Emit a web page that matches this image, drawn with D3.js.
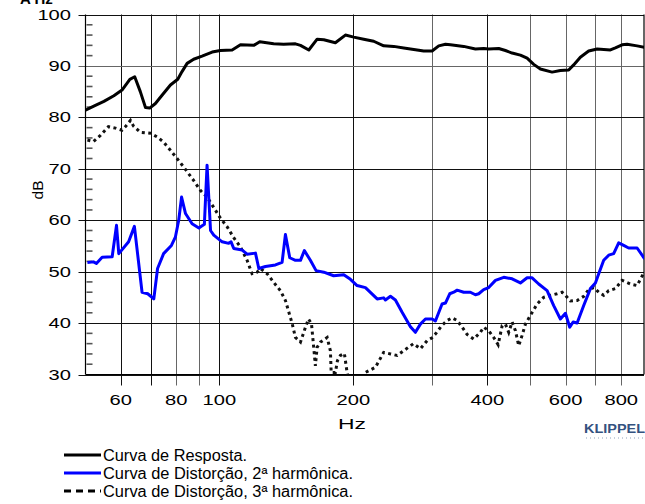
<!DOCTYPE html>
<html>
<head>
<meta charset="utf-8">
<script src="https://cdn.jsdelivr.net/npm/d3@7"></script>
<style>
	body { margin: 0; background: #fff; }
	svg { display: block; font-family: 'Liberation Sans', Arial, sans-serif; }
</style>
</head>
<body>
<div id="chart"></div>
<script>
// response curve [Hz, dB]
const response = [
	[50, 81.4], [52.2, 82.2], [55, 83.1], [57.9, 84.2], [60.4, 85.3], [62.9, 87.4], [64.5, 87.9],
	[66.4, 85.0], [68.2, 81.9], [69.7, 81.8], [71.8, 82.7], [74.3, 84.3], [77.6, 86.3], [80.6, 87.4],
	[82.4, 88.9], [84.6, 90.5], [87.5, 91.3], [91.4, 91.9], [96.3, 92.7], [100.5, 93.0], [106.8, 93.1],
	[111.5, 94.1], [119.4, 94.0], [123.2, 94.7], [132.4, 94.3], [139.4, 94.2], [148.2, 94.3], [152.1, 94.0],
	[158.8, 93.1], [165.8, 95.2], [171.6, 95.1], [182.2, 94.5], [191.9, 96.0], [200.4, 95.6], [211, 95.2],
	[222.2, 94.8], [234, 93.9], [246.5, 93.8], [259.6, 93.5], [278.2, 93.1], [287.8, 92.9], [300.6, 92.9],
	[311.1, 93.9], [322.1, 94.2], [330.5, 94.1], [354, 93.8], [376.1, 93.3], [392.6, 93.4], [402.9, 93.3],
	[424.4, 93.4], [439.3, 93.0], [454.8, 92.5], [474.7, 92.1], [491.5, 91.5], [508.6, 90.3], [526.5, 89.4],
	[559.3, 88.8], [583.9, 89.1], [609.5, 89.2], [625.4, 90.2], [647.4, 91.7], [675.9, 92.9], [706.3, 93.3],
	[756.3, 93.1], [776.1, 93.5], [803.5, 94.1], [824.5, 94.2], [868.5, 93.9], [903, 93.6]
]

// 2nd harmonic distortion [Hz, dB]
const harmonic2 = [
	[50.5, 51.8], [52.1, 51.9], [52.9, 51.6], [54.5, 52.8], [57.4, 52.9], [58.7, 59.0], [59.4, 53.5],
	[62.5, 55.8], [64.4, 58.8], [67.0, 46.0], [69.0, 45.7], [71.2, 44.7], [72.6, 50.6], [74.9, 53.5],
	[78.0, 55.1], [79.6, 56.7], [81.0, 60.0], [82.2, 64.5], [83.9, 61.3], [86.8, 59.3], [89.9, 58.5],
	[92.5, 59.2], [93.8, 70.7], [95.5, 58.0], [97.1, 57.1], [101.4, 55.8], [104.9, 55.5], [106.2, 55.8],
	[107.7, 54.5], [112.5, 54.2], [115.4, 53.4], [120.5, 53.6], [122.6, 50.6], [126.9, 51.0], [133.6, 51.3],
	[138.3, 51.8], [140.7, 57.2], [143.9, 52.7], [148.2, 52.2], [152.1, 52.2], [155.2, 54.1], [160.1, 52.2],
	[164.9, 50.2], [171.6, 49.9], [180.6, 49.2], [190.3, 49.4], [197, 48.5], [203.9, 47.3], [212.9, 46.9],
	[226.2, 44.7], [234, 44.9], [236.1, 44.5], [242.3, 45.2], [248.6, 44.5], [257.4, 42.1], [268.7, 39.3],
	[275.7, 38.2], [282.9, 39.8], [290.4, 40.8], [300.6, 40.8], [305.8, 40.4], [316.5, 43.7], [322.1, 43.9],
	[329.3, 45.7], [336.2, 46.0], [342.2, 46.4], [354, 46.0], [366.4, 46.0], [376.1, 45.5], [382.6, 45.7],
	[392.6, 46.5], [402.9, 46.9], [417.2, 48.3], [435.5, 48.9], [454.8, 48.6], [474.7, 47.8], [491.5, 48.8],
	[504.4, 48.8], [521.9, 47.6], [545.1, 46.3], [564, 43.4], [583.9, 40.8], [599.3, 41.9], [612.8, 39.2],
	[623.6, 40.2], [636.7, 40.0], [658.8, 43.4], [682, 46.7], [699.9, 47.8], [712, 49.6], [730.6, 52.2],
	[749.7, 53.2], [769.3, 53.5], [789.5, 55.6], [810.1, 55.1], [831.4, 54.6], [868.5, 54.6], [903, 52.5]
]

// 3rd harmonic distortion [Hz, dB]
const harmonic3 = [
	[50.5, 75.6], [52.1, 75.3], [54.0, 76.5], [56.3, 78.2], [58.4, 77.9], [60.4, 77.5], [61.5, 78.2],
	[63.1, 79.4], [64.1, 78.3], [66.4, 77.1], [70.0, 76.9], [72.4, 76.2], [74.9, 75.2], [77.6, 73.6],
	[80.3, 72.0], [83.0, 70.4], [87.4, 67.8], [90.6, 65.8], [93.8, 64.5], [96.9, 62.6], [100.5, 60.4],
	[104.1, 58.7], [107.5, 56.7], [111.5, 54.8], [115.4, 52.2], [118.4, 49.6], [121.5, 49.9], [123.6, 50.6],
	[128, 49.6], [132.2, 48.0], [137.1, 46.3], [140.7, 44.4], [142.9, 42.4], [145.7, 39.9], [148.2, 37.2],
	[152.1, 36.3], [156.1, 39.2], [158.5, 40.8], [161, 39.9], [162.6, 36.0], [164.3, 31.7], [165.8, 35.3],
	[168.7, 36.3], [174.6, 37.2], [177.6, 34.6], [178.3, 30.4], [182.2, 30.4], [184.2, 32.7], [187, 33.7],
	[190.9, 34.1], [193.6, 30.4], [197, 27], [208, 27], [212.9, 30.4], [224.2, 31.4], [234, 34.3],
	[242.3, 34.0], [250.8, 33.7], [259.2, 34.6], [272.9, 36.0], [282.9, 35.0], [293, 36.6], [300, 37.1],
	[306, 37.9], [316, 39.5], [324.9, 40.5], [333.4, 41.0], [342.2, 40.5], [351.1, 39.2], [360.3, 37.8],
	[372.8, 36.9], [385.9, 38.2], [392.6, 39.2], [402.9, 38.5], [413.6, 37.2], [423.1, 35.8], [432, 39.5],
	[439.3, 39.8], [446.9, 38.2], [454.8, 40.2], [462.7, 38.5], [470.6, 35.6], [478.9, 37.6], [487.2, 39.8],
	[500, 41.5], [517.6, 43.7], [535.5, 45.0], [554.5, 45.4], [574.1, 45.7], [589.1, 46.0], [599.3, 45.4],
	[615.1, 44.3], [636.7, 44.4], [658.8, 45.2], [675.9, 46.5], [693.7, 46.9], [712, 46.0], [730.6, 45.4],
	[749.7, 46.3], [776.1, 46.7], [803.5, 48.3], [838.8, 47.6], [868.5, 47.3], [898.5, 49.7]
]

const xGrid = [60, 70, 80, 90, 100, 200, 300, 400, 500, 600, 700, 800]
const xLabels = [60, 80, 100, 200, 400, 600, 800]
const yTicks = [30, 40, 50, 60, 70, 80, 90, 100]
const yMinor = d3.range(32, 100, 2).filter(v => v % 10 !== 0)
const legendLabels = ['Curva de Resposta.', 'Curva de Distorção, 2ª harmônica.', 'Curva de Distorção, 3ª harmônica.']

const width = 645
const height = 504
const plotL = 85.5, plotR = 644, plotT = 14.5, plotB = 374.5

const x = d3.scaleLog().domain([50, 900]).range([plotL, plotR])
const y = d3.scaleLinear().domain([30, 100]).range([plotB, plotT])

const svg = d3.select('#chart').append('svg').attr('width', width).attr('height', height)

svg.append('defs').append('clipPath').attr('id', 'plot')
	.append('rect').attr('x', plotL).attr('y', plotT).attr('width', plotR - plotL).attr('height', plotB - plotT)

// title, cut off by the top edge as in the original
svg.append('text').attr('x', 20).attr('y', 4).attr('font-size', '15px').attr('font-weight', 'bold').text('A Hz')

// grid
svg.append('g').selectAll('line').data(xGrid).join('line')
	.attr('x1', d => Math.round(x(d)) + 0.5).attr('x2', d => Math.round(x(d)) + 0.5)
	.attr('y1', plotT).attr('y2', plotB + 11)
	.attr('stroke', d => (d === 100 || d === 200 || d === 400 || d === 60 || d === 70 ? '#111' : '#666'))
	.attr('stroke-width', 1)

svg.append('g').selectAll('line').data(yTicks).join('line')
	.attr('x1', plotL - 7).attr('x2', plotR)
	.attr('y1', d => Math.round(y(d)) + 0.5).attr('y2', d => Math.round(y(d)) + 0.5)
	.attr('stroke', d => (d === 90 ? '#666' : '#111'))
	.attr('stroke-width', 1)

// minor y ticks inside the frame
svg.append('g').selectAll('line').data(yMinor).join('line')
	.attr('x1', plotL + 1).attr('x2', plotL + 7)
	.attr('y1', d => y(d)).attr('y2', d => y(d))
	.attr('stroke', '#555').attr('stroke-width', 1.6)

// frame
svg.append('line').attr('x1', plotL).attr('x2', plotL).attr('y1', plotT).attr('y2', plotB).attr('stroke', '#000').attr('stroke-width', 1.2)
svg.append('line').attr('x1', plotR).attr('x2', plotR).attr('y1', plotT).attr('y2', plotB).attr('stroke', '#000').attr('stroke-width', 1.2)
svg.append('line').attr('x1', plotL).attr('x2', plotR).attr('y1', plotB).attr('y2', plotB).attr('stroke', '#000').attr('stroke-width', 1.2)

// tick labels (wide glyphs as in the original)
svg.append('g').selectAll('text').data(yTicks).join('text')
	.attr('x', 71).attr('y', d => y(d) + 5)
	.attr('text-anchor', 'end')
	.attr('font-size', '14px')
	.attr('textLength', d => String(d).length * 11.2)
	.attr('lengthAdjust', 'spacingAndGlyphs')
	.text(d => d)

svg.append('g').selectAll('text').data(xLabels).join('text')
	.attr('x', d => x(d)).attr('y', 405)
	.attr('text-anchor', 'middle')
	.attr('font-size', '14px')
	.attr('textLength', d => String(d).length * 11.2)
	.attr('lengthAdjust', 'spacingAndGlyphs')
	.text(d => d)

svg.append('text').attr('x', 352).attr('y', 429).attr('text-anchor', 'middle')
	.attr('font-size', '15px').attr('textLength', 28).attr('lengthAdjust', 'spacingAndGlyphs').text('Hz')

svg.append('text').attr('transform', 'translate(43,190) rotate(-90)').attr('text-anchor', 'middle')
	.attr('font-size', '15px').attr('textLength', 19).attr('lengthAdjust', 'spacingAndGlyphs').text('dB')

// curves
const line = d3.line().x(d => x(d[0])).y(d => y(d[1]))
const curves = svg.append('g').attr('clip-path', 'url(#plot)')

curves.append('path').datum(harmonic3).attr('d', line)
	.attr('fill', 'none').attr('stroke', '#111').attr('stroke-width', 3).attr('stroke-dasharray', '3 3.5')
curves.append('path').datum(harmonic2).attr('d', line)
	.attr('fill', 'none').attr('stroke', '#0000ff').attr('stroke-width', 3).attr('stroke-linejoin', 'round')
curves.append('path').datum(response).attr('d', line)
	.attr('fill', 'none').attr('stroke', '#000').attr('stroke-width', 3).attr('stroke-linejoin', 'round')

// KLIPPEL mark
svg.append('text').attr('x', 584).attr('y', 433).attr('font-size', '13px').attr('font-weight', 'bold')
	.attr('fill', '#34527f').attr('textLength', 61).attr('lengthAdjust', 'spacingAndGlyphs').text('KLIPPEL')
svg.append('line').attr('x1', 586).attr('x2', 645).attr('y1', 438).attr('y2', 438)
	.attr('stroke', '#b7c2d2').attr('stroke-width', 1.5).attr('stroke-dasharray', '1 3')

// legend
const legendStyles = [
	{ color: '#000', dash: null },
	{ color: '#0000ff', dash: null },
	{ color: '#000', dash: '7 5' },
]
const legendY = [455, 473, 491]
const legendW = [144, 250, 250]
const legend = svg.append('g').selectAll('g').data(legendLabels).join('g')
	.attr('transform', (d, i) => `translate(0,${legendY[i]})`)
legend.append('line').attr('x1', 64).attr('x2', 101).attr('y1', 0).attr('y2', 0)
	.attr('stroke', (d, i) => legendStyles[i].color).attr('stroke-width', 3)
	.attr('stroke-dasharray', (d, i) => legendStyles[i].dash)
legend.append('text').attr('x', 103).attr('y', 6).attr('font-size', '16px')
	.attr('textLength', (d, i) => legendW[i]).attr('lengthAdjust', 'spacingAndGlyphs')
	.text(d => d)
</script>
</body>
</html>
